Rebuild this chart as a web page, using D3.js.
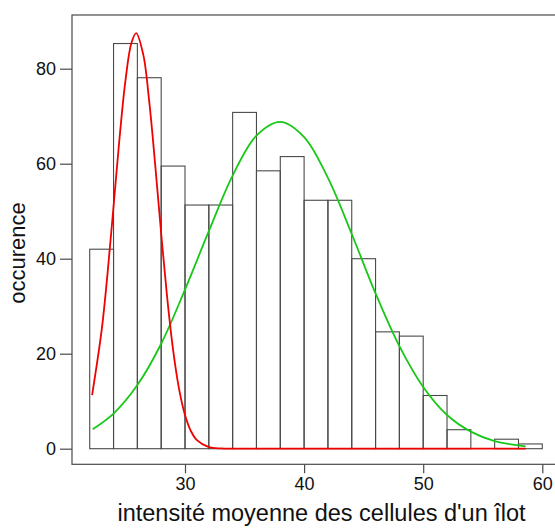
<!DOCTYPE html>
<html><head><meta charset="utf-8">
<script src="https://cdn.jsdelivr.net/npm/d3@7"></script>
<style>
html,body{margin:0;padding:0;background:#fff;}
svg{display:block;font-family:"Liberation Sans",Arial,Helvetica,sans-serif;}
</style></head>
<body>
<svg id="c" width="555" height="528"></svg>
<script>
// bin edges (start of each bin, width 2)
const binStarts = [22,24,26,28,30,32,34,36,38,40,42,44,46,48,50,52,54,56,58];
const binWidth = 2;
const counts = [42,85.3,78.1,59.5,51.3,51.3,70.8,58.5,61.5,52.3,52.3,40,24.6,23.7,11.2,4,0,2,1];
// red fitted curve
const redX = [22.2,23,23.5,24,24.5,25,25.5,25.9,26.5,27,27.5,28,28.5,29,29.5,30,30.5,31,32,33,34,36,40,45,50,55,58.6];
const redY = [11.3,24.9,37.0,51.0,65.3,77.5,85.4,87.5,82.9,73.0,59.7,45.3,31.9,20.8,12.6,7.1,3.7,1.8,0.34,0.05,0,0,0,0,0,0,0];
// green fitted curve
const greenX = [22.25,24,26,28,30,32,34,36,38,40,42,44,46,48,50,52,54,56,58,58.6];
const greenY = [4.1,7.4,13.4,22.1,33.5,45.8,57.5,65.9,68.8,65.6,57.0,45.2,32.7,21.6,13.0,7.1,3.6,1.6,0.7,0.5];
const xTicks = [30,40,50,60];
const yTicks = [0,20,40,60,80];
const xTitle = "intensité moyenne des cellules d'un îlot";
const yTitle = "occurence";

const svg = d3.select("#c");
const x = d3.scaleLinear().domain([30,60]).range([185,542.3]);
const y = d3.scaleLinear().domain([0,80]).range([448.7,68.7]);

const frame = {l:72, t:15, b:464.3, r:560};
const ink = "#4a4a4a";

// bars
svg.append("g").selectAll("rect").data(binStarts).join("rect")
  .attr("x", d => x(d))
  .attr("width", d => x(d+binWidth)-x(d))
  .attr("y", (d,i) => y(counts[i]))
  .attr("height", (d,i) => y(0)-y(counts[i]))
  .attr("fill","none").attr("stroke",ink).attr("stroke-width",1.1);

// curves
const line = d3.line().x(d=>x(d[0])).y(d=>y(d[1])).curve(d3.curveCatmullRom.alpha(0.5));
svg.append("path").datum(greenX.map((v,i)=>[v,greenY[i]]))
  .attr("d", line).attr("fill","none").attr("stroke","#18c818").attr("stroke-width",1.8);
svg.append("path").datum(redX.map((v,i)=>[v,redY[i]]))
  .attr("d", line).attr("fill","none").attr("stroke","#f00000").attr("stroke-width",1.8);

// frame
svg.append("rect").attr("x",frame.l).attr("y",frame.t)
  .attr("width",frame.r-frame.l).attr("height",frame.b-frame.t)
  .attr("fill","none").attr("stroke",ink).attr("stroke-width",1.2);

// x axis ticks
const xa = svg.append("g").attr("transform",`translate(0,${frame.b})`)
  .call(d3.axisBottom(x).tickValues(xTicks).tickSize(9).tickPadding(4).tickFormat(d3.format("d")));
xa.select(".domain").remove();
xa.selectAll("line").attr("stroke",ink).attr("stroke-width",1.2);
xa.selectAll("text").attr("font-size",18).attr("fill","#111").attr("font-family","Liberation Sans, Arial, sans-serif");

// y axis ticks
const ya = svg.append("g").attr("transform",`translate(${frame.l},0)`)
  .call(d3.axisLeft(y).tickValues(yTicks).tickSize(12).tickPadding(4).tickFormat(d3.format("d")));
ya.select(".domain").remove();
ya.selectAll("line").attr("stroke",ink).attr("stroke-width",1.2);
ya.selectAll("text").attr("font-size",18).attr("fill","#111").attr("font-family","Liberation Sans, Arial, sans-serif");

// titles
svg.append("text").attr("x",321.5).attr("y",521).attr("text-anchor","middle")
  .attr("font-size",23.5).attr("fill","#111").text(xTitle);
svg.append("text").attr("transform","translate(25,253) rotate(-90)").attr("text-anchor","middle")
  .attr("font-size",22).attr("fill","#111").text(yTitle);
</script>
</body></html>
